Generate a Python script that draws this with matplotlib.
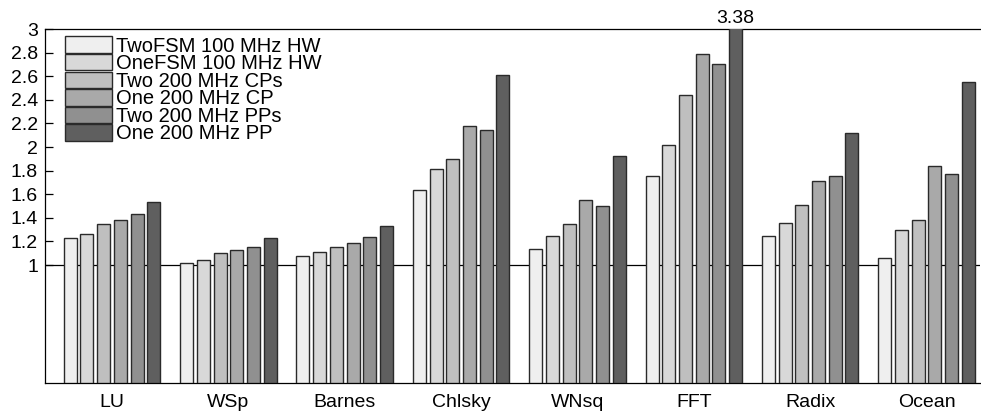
import numpy as np
import matplotlib
matplotlib.use('Agg')
import matplotlib.pyplot as plt

plt.rcParams['font.family'] = ['Liberation Sans', 'DejaVu Sans']

benchmarks = ['LU', 'WSp', 'Barnes', 'Chlsky', 'WNsq', 'FFT', 'Radix', 'Ocean']
configs = ['TwoFSM 100 MHz HW', 'OneFSM 100 MHz HW', 'Two 200 MHz CPs',
           'One 200 MHz CP', 'Two 200 MHz PPs', 'One 200 MHz PP']
speedups = [
    [1.23, 1.02, 1.075, 1.635, 1.137, 1.755, 1.245, 1.06],   # TwoFSM HW
    [1.26, 1.04, 1.11, 1.81, 1.245, 2.015, 1.36, 1.30],      # OneFSM HW
    [1.35, 1.10, 1.15, 1.90, 1.35, 2.44, 1.505, 1.38],       # Two CPs
    [1.38, 1.13, 1.19, 2.18, 1.55, 2.79, 1.71, 1.84],        # One CP
    [1.43, 1.15, 1.235, 2.14, 1.50, 2.70, 1.755, 1.775],     # Two PPs
    [1.53, 1.23, 1.33, 2.61, 1.92, 3.38, 2.12, 2.55],        # One PP
]
colors = ['#efefef', '#d8d8d8', '#bfbfbf', '#a9a9a9', '#909090', '#5f5f5f']
yticks = [1, 1.2, 1.4, 1.6, 1.8, 2, 2.2, 2.4, 2.6, 2.8, 3]


def main():
    fig = plt.figure(figsize=(9.81, 4.13), dpi=100)
    ax = fig.add_axes([45 / 981, 30 / 413, 935 / 981, 354 / 413])

    x = np.arange(len(benchmarks))
    pitch = 0.1435
    width = 0.112
    for i, (vals, c) in enumerate(zip(speedups, colors)):
        ax.bar(x + (i - 2.5) * pitch, vals, width=width, color=c,
               edgecolor='#2a2a2a', linewidth=1.0, label=configs[i], zorder=3)

    ax.axhline(1, color='black', linewidth=0.9, zorder=2)

    # value of the clipped FFT bar
    ax.text(x[5] + 2.5 * pitch, 3.02, '%.2f' % speedups[5][5],
            ha='center', va='bottom', fontsize=14)

    ax.set_xlim(-0.576, 7.46)
    ax.set_ylim(0, 3)
    ax.set_yticks(yticks)
    ax.set_yticklabels(['%g' % t for t in yticks])
    ax.set_xticks(x)
    ax.set_xticklabels(benchmarks)
    ax.tick_params(axis='x', length=0, pad=8, labelsize=14)
    ax.tick_params(axis='y', direction='in', length=6, width=0.9,
                   pad=5, labelsize=14)
    ax.spines['right'].set_visible(False)
    for s in ['left', 'top', 'bottom']:
        ax.spines[s].set_linewidth(0.9)

    ax.legend(loc='upper left', bbox_to_anchor=(0.021, 0.979), frameon=False,
              fontsize=14.5, handlelength=2.33, handleheight=0.88,
              labelspacing=-0.08, handletextpad=0.2, borderaxespad=0,
              borderpad=0)

    fig.savefig('out.png', dpi=100)


if __name__ == "__main__":
    main()
